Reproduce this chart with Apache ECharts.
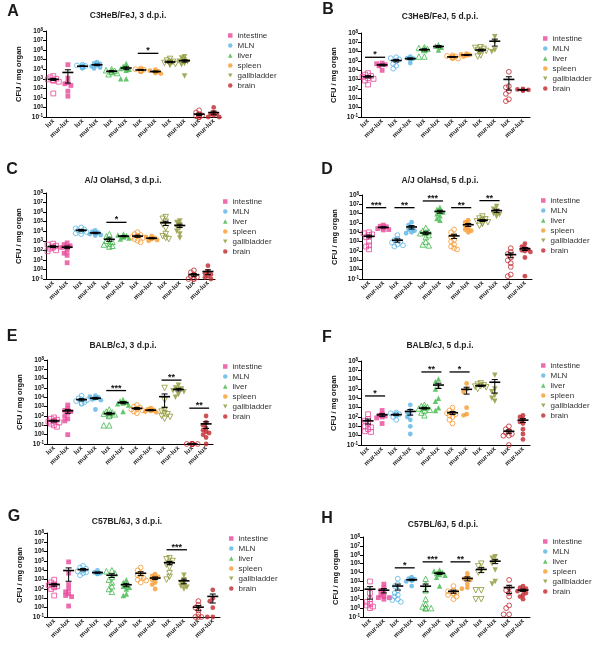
<!DOCTYPE html>
<html>
<head>
<meta charset="UTF-8">
<title>CFU per organ</title>
<script src="https://cdn.jsdelivr.net/npm/echarts@6/dist/echarts.min.js"></script>
<style>
  html, body { margin: 0; padding: 0; background: #fff; }
  #main { width: 600px; height: 645px; }
</style>
</head>
<body>
<div id="main"></div>
<script>
// organs and x labels
const organs = ['intestine', 'MLN', 'liver', 'spleen', 'gallbladder', 'brain'];
const xLabels = ['lux', 'mur-lux', 'lux', 'mur-lux', 'lux', 'mur-lux', 'lux', 'mur-lux', 'lux', 'mur-lux', 'lux', 'mur-lux'];
const titles = ['C3HeB/FeJ, 3 d.p.i.', 'C3HeB/FeJ, 5 d.p.i.', 'A/J OlaHsd, 3 d.p.i.', 'A/J OlaHsd, 5 d.p.i.',
  'BALB/cJ, 3 d.p.i.', 'BALB/cJ, 5 d.p.i.', 'C57BL/6J, 3 d.p.i.', 'C57BL/6J, 5 d.p.i.'];
const letters = ['A', 'B', 'C', 'D', 'E', 'F', 'G', 'H'];

// CFU / mg organ, one list per group (lux, mur-lux for each organ)
const ptsA = [
  [1900, 1400, 1000, 850, 720, 620, 490, 29],
  [30000, 1200, 400, 300, 200, 50, 15],
  [30000, 25000, 22000, 20000, 20000, 18000, 16000, 14000],
  [55000, 40000, 35000, 30000, 25000, 20000, 15000, 12000],
  [10000, 8000, 7000, 6000, 5000, 4000, 3000],
  [40000, 20000, 15000, 12000, 10000, 8000, 1000, 1000],
  [12000, 10000, 9000, 8500, 8000, 7000, 6500, 6000],
  [9000, 7000, 6000, 5500, 5000, 4000, 3500],
  [120000, 80000, 60000, 50000, 45000, 40000, 35000, 30000],
  [200000, 150000, 90000, 70000, 60000, 50000, 40000, 30000, 2000],
  [0.5, 0.3, 0.2, 0.15, 0.12, 0.1, 0.1, 0.1],
  [1.0, 0.3, 0.2, 0.2, 0.15, 0.1, 0.1]
];
const ptsB = [
  [5000, 3500, 2500, 2000, 1500, 1200, 800, 300],
  [60000, 50000, 40000, 30000, 10000],
  [250000, 200000, 150000, 100000, 50000, 30000, 15000],
  [300000, 200000, 180000, 150000, 60000],
  [3000000, 2500000, 2000000, 1800000, 1500000, 300000, 300000],
  [6000000, 4000000, 3000000, 1500000],
  [400000, 350000, 300000, 280000, 250000, 230000, 200000, 180000],
  [600000, 500000, 450000, 400000, 300000],
  [3000000, 2500000, 2000000, 1500000, 1200000, 1000000, 400000, 300000],
  [40000000, 10000000, 1500000, 1000000],
  [7000, 200, 150, 60, 30, 8, 5],
  [100, 90, 80, 80, 70, 70]
];
const ptsC = [
  [500, 400, 300, 250, 200, 150, 100, 80],
  [600, 400, 300, 250, 200, 100, 50, 30, 5],
  [25000, 20000, 15000, 12000, 10000, 8000, 6000, 5000],
  [12000, 9000, 7000, 6000, 5000, 4000, 3500],
  [5000, 3000, 1500, 1000, 800, 500, 400, 300, 250],
  [5000, 4000, 3500, 3000, 2500, 2000, 1500],
  [8000, 5000, 4000, 3000, 2500, 2000, 1500, 1000, 700],
  [3000, 2500, 2000, 1800, 1500, 1200, 1000],
  [300000, 200000, 100000, 50000, 20000, 5000, 3000, 2000, 1500],
  [120000, 80000, 50000, 30000, 20000, 10000, 5000, 2000],
  [0.8, 0.5, 0.3, 0.2, 0.15, 0.1, 0.1, 0.1],
  [2.5, 0.6, 0.4, 0.3, 0.2, 0.15, 0.1]
];
const ptsD = [
  [10000, 8000, 6000, 5000, 3000, 1000, 400, 300, 150],
  [60000, 45000, 40000, 35000, 30000, 25000, 20000, 18000],
  [5000, 2000, 1500, 1000, 800, 500, 400, 300],
  [120000, 60000, 30000, 20000, 15000, 10000, 8000],
  [30000, 15000, 12000, 10000, 8000, 5000, 3000, 1000, 500, 400],
  [5000000, 3000000, 2000000, 1500000, 1000000, 600000, 300000, 200000],
  [20000, 10000, 5000, 3000, 1500, 1000, 500, 300, 200, 150],
  [200000, 120000, 80000, 50000, 30000, 20000, 15000, 10000],
  [500000, 300000, 250000, 200000, 150000, 120000, 100000, 80000, 50000],
  [6000000, 3000000, 1500000, 1000000, 800000, 500000],
  [200, 80, 50, 20, 10, 5, 2, 0.3, 0.2],
  [600, 300, 200, 150, 120, 100, 80, 20, 0.2]
];
const ptsE = [
  [70, 50, 40, 30, 25, 20, 15, 10, 7],
  [1500, 600, 400, 300, 200, 100, 50, 30, 1],
  [15000, 8000, 6000, 5000, 4000, 3000, 2500, 2000],
  [15000, 12000, 10000, 8000, 6000, 5000, 500],
  [500, 300, 250, 200, 180, 150, 120, 100, 10, 10],
  [6000, 4000, 3000, 2500, 2000, 1500, 300],
  [1500, 1000, 800, 600, 500, 400, 300, 200],
  [700, 500, 450, 400, 350, 300, 250],
  [100000, 5000, 500, 300, 200, 150, 100, 80, 50],
  [200000, 100000, 80000, 60000, 50000, 40000, 20000, 10000],
  [0.1, 0.1, 0.1, 0.1, 0.1, 0.1, 0.1, 0.1],
  [100, 20, 10, 5, 3, 2, 1.5, 1, 0.5, 0.1]
];
const ptsF = [
  [200, 60, 40, 20, 10, 8, 5, 3, 2.5],
  [500, 200, 150, 130, 100, 80, 20],
  [300, 250, 200, 200, 180, 150, 100, 50],
  [2000, 500, 300, 200, 100, 50, 10, 1.5],
  [2000, 1500, 1200, 1000, 800, 600, 500, 300, 150],
  [1200000, 600000, 200000, 100000, 10000, 5000, 1000, 500],
  [1000, 500, 300, 250, 200, 150, 100, 50, 20],
  [400000, 100000, 50000, 1000, 200, 150],
  [400000, 300000, 250000, 200000, 180000, 150000, 100000],
  [3000000, 100000, 50000, 20000, 10000, 5000],
  [10, 5, 3, 2, 1.5, 1, 1, 0.1],
  [150, 100, 60, 30, 20, 5, 1.5, 0.4]
];
const ptsG = [
  [1000, 500, 300, 250, 200, 180, 150, 100, 20],
  [80000, 5000, 300, 100, 50, 30, 20, 15, 1.5],
  [30000, 20000, 15000, 10000, 8000, 6000, 5000, 3000],
  [10000, 6000, 5000, 5000, 4500, 4000],
  [10000, 8000, 5000, 2000, 1000, 500, 200, 100, 50],
  [1000, 500, 300, 200, 150, 100, 30, 20],
  [20000, 10000, 5000, 3000, 2000, 1500, 1000, 800, 500],
  [4000, 2500, 2000, 1500, 1000, 500, 300, 100],
  [200000, 150000, 100000, 60000, 40000, 20000, 5000, 2000, 1000],
  [3000, 1000, 500, 300, 200, 150, 100],
  [5, 2, 1, 0.5, 0.2, 0.1, 0.1, 0.1],
  [80, 10, 5, 1, 0.1, 0.1]
];
const ptsH = [
  [1000, 50, 10, 5, 3, 2, 1.5, 1],
  [500, 200, 100, 50, 30, 20, 15, 15, 10],
  [2000, 500, 300, 100, 50, 30, 20, 10, 8, 5],
  [3000, 2000, 1800, 1500, 1500, 1200, 1000, 300],
  [2000, 500, 100, 10, 3, 1.5, 1, 1, 1],
  [20000, 15000, 10000, 8000, 6000, 5000, 3000, 300],
  [300, 100, 80, 60, 50, 40, 30, 20, 10],
  [8000, 3000, 2000, 1500, 500, 200, 150],
  [100000, 50000, 20000, 10000, 100, 100, 10, 10],
  [600000, 400000, 200000, 100000, 20000, 1000, 500],
  [1500, 200, 100, 50, 20, 2, 1, 0.2, 0.2],
  [300, 200, 150, 100, 80, 50, 30, 20, 10]
];

// significance bars: [first group of pair, level, stars]
const sigA = [[6, 4.6e5, '*']];
const sigB = [[0, 2.5e5, '*']];
const sigC = [[4, 8.5e4, '*']];
const sigD = [[0, 4.4e6, '***'], [2, 4.4e6, '**'], [4, 2.3e7, '***'], [6, 4.4e6, '**'], [8, 2.5e7, '**']];
const sigE = [[4, 5.3e4, '***'], [8, 7e5, '**'], [10, 6.9e2, '**']];
const sigF = [[0, 1.8e4, '*'], [4, 6.7e6, '**'], [6, 6.7e6, '*']];
const sigG = [[8, 1.6e6, '***']];
const sigH = [[2, 3.4e4, '*'], [4, 1.6e5, '***'], [6, 1.6e5, '**']];

const allPts = [ptsA, ptsB, ptsC, ptsD, ptsE, ptsF, ptsG, ptsH];
const allSig = [sigA, sigB, sigC, sigD, sigE, sigF, sigG, sigH];

// layout of the 8 panels
const grids = [
  { left: 46, top: 31, width: 175, height: 86 },
  { left: 361, top: 33, width: 169, height: 84 },
  { left: 46, top: 193, width: 169, height: 86 },
  { left: 362, top: 195, width: 170, height: 84 },
  { left: 47, top: 360, width: 166, height: 84 },
  { left: 361, top: 361, width: 169, height: 84 },
  { left: 47, top: 533, width: 173, height: 84 },
  { left: 363, top: 537, width: 167, height: 80 }
];
const legendPos = [[228, 31], [543, 34], [223, 197], [541, 196], [223, 362], [541, 361], [229, 534], [543, 537]];
const titlePos = [[128, 16], [440, 17], [123, 181], [440, 181], [123, 346], [440, 346], [127, 522], [443, 525]];
const letterPos = [[13, 12], [328, 10], [12, 170], [327, 170], [12, 337], [327, 338], [14, 517], [327, 519]];

const colors = ['#e8479a', '#5ab4e5', '#40b84a', '#f79a2e', '#8f9636', '#c0272d'];
const symbols = ['rect', 'circle', 'triangle', 'circle', 'triangle', 'circle'];
const legendIcons = ['rect', 'circle', 'triangle', 'circle', 'path://M0,0L10,0L5,9Z', 'circle'];
const FONT = 'Liberation Sans, Arial, sans-serif';

/* compact beeswarm offsets (pixels) so that points do not sit exactly on top of each other */
function swarm(vals, pxPerDecade) {
  const placed = [];
  const cands = [0, -3, 3, -5.5, 5.5];
  return vals.map(v => {
    const py = Math.log10(Math.max(v, 0.1)) * pxPerDecade;
    for (const dx of cands) {
      if (placed.every(p => Math.hypot(p.x - dx, p.y - py) >= 3.2)) {
        placed.push({ x: dx, y: py });
        return dx;
      }
    }
    placed.push({ x: 0, y: py });
    return 0;
  });
}

/* mean and SEM of a group */
function stats(vals) {
  const n = vals.length;
  const m = vals.reduce((a, b) => a + b, 0) / n;
  const sd = n > 1 ? Math.sqrt(vals.reduce((a, b) => a + (b - m) * (b - m), 0) / (n - 1)) : 0;
  const sem = sd / Math.sqrt(n);
  return [m, Math.max(m - sem, 0.1), m + sem];
}

const chart = echarts.init(document.getElementById('main'), null, { renderer: 'canvas' });

const option = {
  animation: false,
  backgroundColor: '#fff',
  grid: [], xAxis: [], yAxis: [], legend: [], series: [], graphic: []
};

allPts.forEach((pts, p) => {
  const g = grids[p];
  option.grid.push(Object.assign({}, g));
  option.xAxis.push({
    gridIndex: p, type: 'category', data: xLabels,
    axisLine: { lineStyle: { color: '#000', width: 1 } },
    axisTick: { alignWithLabel: true, length: 3, lineStyle: { color: '#000' } },
    axisLabel: { interval: 0, rotate: 45, fontSize: 6.5, fontWeight: 'bold', color: '#222', margin: 3, fontFamily: FONT },
    splitLine: { show: false }
  });
  option.yAxis.push({
    gridIndex: p, type: 'log', logBase: 10, min: 0.1, max: 1e8, splitNumber: 9,
    axisLine: { show: true, lineStyle: { color: '#000', width: 1 } },
    axisTick: { show: true, length: 3, lineStyle: { color: '#000' } },
    splitLine: { show: false },
    axisLabel: {
      margin: 3,
      formatter: v => '{b|10}{s|' + Math.round(Math.log10(v)) + '}',
      rich: {
        b: { fontSize: 6.5, fontWeight: 'bold', color: '#111', fontFamily: FONT },
        s: { fontSize: 4.5, fontWeight: 'bold', color: '#111', verticalAlign: 'top', fontFamily: FONT }
      }
    },
    name: 'CFU / mg organ', nameLocation: 'middle', nameGap: 23,
    nameTextStyle: { fontSize: 7.5, fontWeight: 'bold', color: '#111', fontFamily: FONT }
  });
  option.legend.push({
    left: legendPos[p][0], top: legendPos[p][1], orient: 'vertical',
    itemWidth: 4.5, itemHeight: 4.5, itemGap: 1, padding: 0, selectedMode: false,
    textStyle: { fontSize: 8, color: '#333', lineHeight: 9, fontFamily: FONT },
    data: organs.map((o, k) => ({ name: o, icon: legendIcons[k] }))
  });

  const pxDec = g.height / 9;
  organs.forEach((o, k) => {
    const data = [];
    [0, 1].forEach(j => {
      const cat = 2 * k + j;
      const vals = pts[cat];
      const offs = swarm(vals, pxDec);
      vals.forEach((v, t) => {
        const item = { value: [cat, v], symbolOffset: [offs[t], 0] };
        if (j === 0) item.itemStyle = { color: 'rgba(255,255,255,0)', borderColor: colors[k], borderWidth: 1 };
        data.push(item);
      });
    });
    option.series.push({
      name: o, type: 'scatter', xAxisIndex: p, yAxisIndex: p,
      symbol: symbols[k], symbolRotate: k === 4 ? 180 : 0,
      symbolSize: k === 2 || k === 4 ? 5.5 : 4.8,
      itemStyle: { color: colors[k] },
      data: data, z: 2
    });
  });

  // mean +/- SEM
  option.series.push({
    type: 'custom', xAxisIndex: p, yAxisIndex: p, z: 3, silent: true,
    data: pts.map((vals, i) => [i].concat(stats(vals))),
    renderItem: (params, api) => {
      const c = api.coord([api.value(0), api.value(1)]);
      const lo = api.coord([api.value(0), api.value(2)]);
      const hi = api.coord([api.value(0), api.value(3)]);
      const st = { stroke: '#000', lineWidth: 1 };
      return {
        type: 'group', children: [
          { type: 'line', shape: { x1: c[0] - 5.5, y1: c[1], x2: c[0] + 5.5, y2: c[1] }, style: { stroke: '#000', lineWidth: 1.6 } },
          { type: 'line', shape: { x1: c[0], y1: hi[1], x2: c[0], y2: lo[1] }, style: st },
          { type: 'line', shape: { x1: c[0] - 3, y1: hi[1], x2: c[0] + 3, y2: hi[1] }, style: st },
          { type: 'line', shape: { x1: c[0] - 3, y1: lo[1], x2: c[0] + 3, y2: lo[1] }, style: st }
        ]
      };
    }
  });

  // significance bars
  const sig = allSig[p];
  option.series.push({
    type: 'custom', xAxisIndex: p, yAxisIndex: p, z: 3, silent: true,
    data: sig.map(s => [s[0], s[1]]),
    renderItem: (params, api) => {
      const a = api.coord([api.value(0), api.value(1)]);
      const b = api.coord([api.value(0) + 1, api.value(1)]);
      return {
        type: 'group', children: [
          { type: 'line', shape: { x1: a[0] - 3, y1: a[1], x2: b[0] + 3, y2: a[1] }, style: { stroke: '#000', lineWidth: 1.3 } },
          { type: 'text', style: { text: sig[params.dataIndex][2], x: (a[0] + b[0]) / 2, y: a[1] + 2, align: 'center', verticalAlign: 'bottom', font: 'bold 9px ' + FONT, fill: '#111' } }
        ]
      };
    }
  });

  option.graphic.push({
    type: 'text', x: titlePos[p][0], y: titlePos[p][1],
    style: { text: titles[p], align: 'center', verticalAlign: 'middle', font: 'bold 8.5px ' + FONT, fill: '#222' }
  });
  option.graphic.push({
    type: 'text', x: letterPos[p][0], y: letterPos[p][1],
    style: { text: letters[p], align: 'center', verticalAlign: 'middle', font: 'bold 16px ' + FONT, fill: '#1a1a1a' }
  });
});

chart.setOption(option);
</script>
</body>
</html>
